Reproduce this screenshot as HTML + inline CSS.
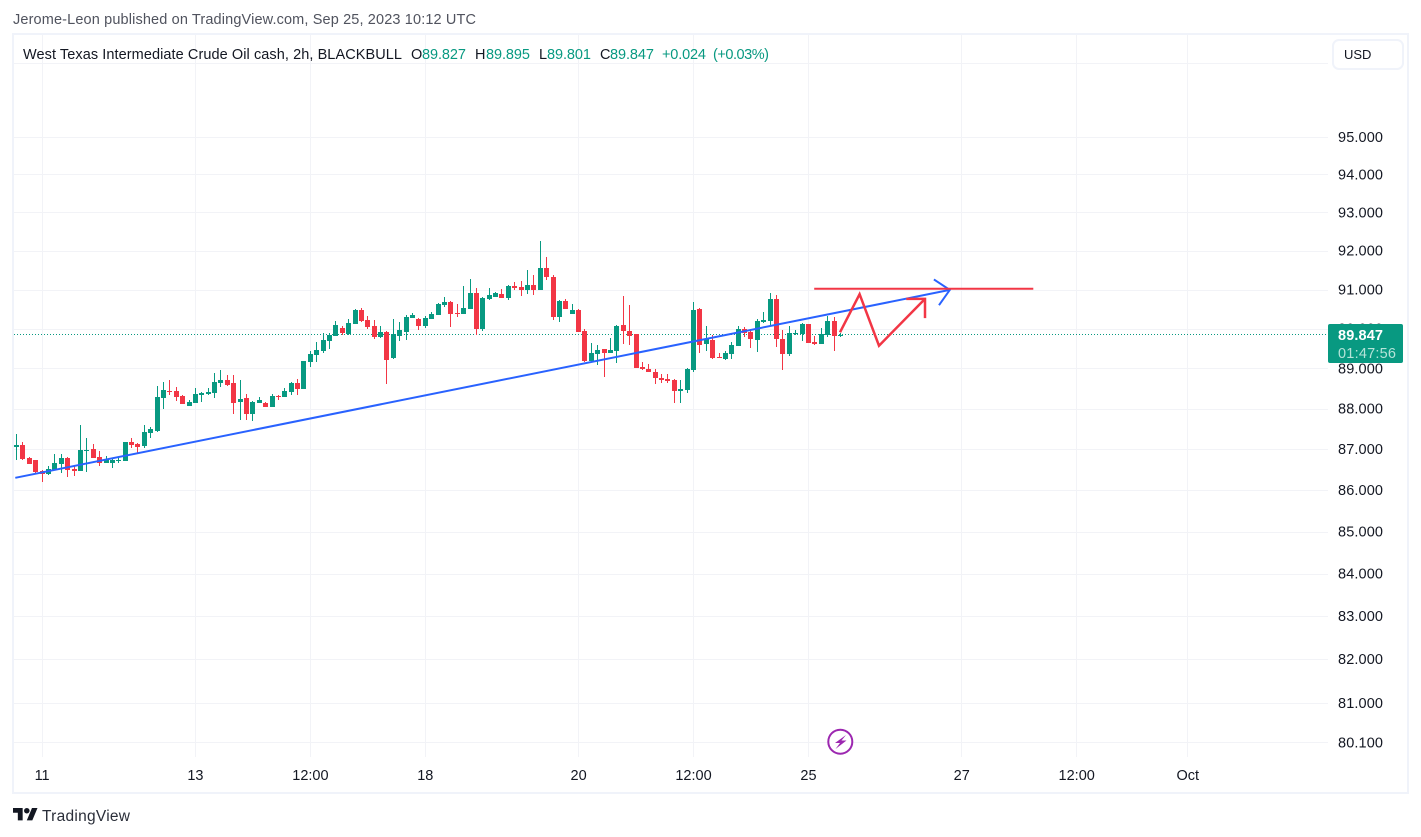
<!DOCTYPE html>
<html lang="en">
<head>
<meta charset="utf-8">
<title>WTI Crude Oil cash 2h chart</title>
<style>
html,body{margin:0;padding:0;background:#fff;width:1421px;height:837px;overflow:hidden}
svg{display:block}
text{font-family:"Liberation Sans",sans-serif;font-size:14.5px;fill:#131722}
.g{fill:#089981}
</style>
</head>
<body>
<svg id="chart" xmlns="http://www.w3.org/2000/svg" width="1421" height="837" viewBox="0 0 1421 837">
  <rect x="0" y="0" width="1421" height="837" fill="#ffffff"/>
  <text x="13" y="24" textLength="463" lengthAdjust="spacing" fill="#50535e" style="fill:#50535e">Jerome-Leon published on TradingView.com, Sep 25, 2023 10:12 UTC</text>
  <rect x="13" y="34" width="1395" height="759" fill="none" stroke="#f0f3fa" stroke-width="2"/>
  <g id="grid"></g>
  <g id="last-line"></g>
  <g id="candles"></g>
  <g id="drawings"></g>
  <g id="y-axis"></g>
  <g id="x-axis"></g>

  <g>
    <text x="23" y="59" textLength="379" lengthAdjust="spacing">West Texas Intermediate Crude Oil cash, 2h, BLACKBULL</text>
    <text x="411" y="59">O</text>
    <text class="g" x="422" y="59" textLength="44" lengthAdjust="spacing">89.827</text>
    <text x="475" y="59">H</text>
    <text class="g" x="486" y="59" textLength="44" lengthAdjust="spacing">89.895</text>
    <text x="539" y="59">L</text>
    <text class="g" x="547" y="59" textLength="44" lengthAdjust="spacing">89.801</text>
    <text x="600" y="59">C</text>
    <text class="g" x="610" y="59" textLength="44" lengthAdjust="spacing">89.847</text>
    <text class="g" x="662" y="59" textLength="44" lengthAdjust="spacing">+0.024</text>
    <text class="g" x="713" y="59" textLength="56" lengthAdjust="spacing">(+0.03%)</text>
  </g>

  <g>
    <rect x="1333" y="40" width="70" height="29" rx="6" fill="#ffffff" stroke="#f0f3fa" stroke-width="2"/>
    <text x="1344" y="59" style="font-size:13px">USD</text>
  </g>

  <g>
    <rect x="1328" y="324" width="75" height="39" rx="2" fill="#089981"/>
    <text x="1338" y="340" textLength="45" lengthAdjust="spacing" style="fill:#ffffff;font-weight:bold">89.847</text>
    <text x="1338" y="358" textLength="58" lengthAdjust="spacing" style="fill:#b5e3d8">01:47:56</text>
  </g>

  <g>
    <circle cx="840.3" cy="741.7" r="12" fill="#ffffff" stroke="#9c27b0" stroke-width="2"/>
    <polygon points="846,735 835,743 840,743 835.5,749 846.5,740.5 841.5,740.5" fill="#9c27b0"/>
  </g>

  <g>
    <g transform="translate(13,805.2) scale(0.69)">
      <path d="M14 22H7V11H0V4h14v18zM28 22h-8l7.5-18h8L28 22z" fill="#131722"/>
      <circle cx="20" cy="8" r="4" fill="#131722"/>
    </g>
    <text x="42" y="821" textLength="88" lengthAdjust="spacing" style="font-size:15.5px;fill:#2a2e39">TradingView</text>
  </g>
</svg>

<script>
// ---- chart data (prices) ----
const opens = [
87.04,87.11,86.79,86.74,86.47,86.40,86.50,86.64,86.79,86.52,
86.47,86.96,87.01,86.81,86.67,86.67,86.72,86.72,87.18,87.13,
87.08,87.40,87.45,88.26,88.43,88.43,88.31,88.06,88.13,88.33,
88.36,88.38,88.63,88.71,88.63,88.16,88.26,87.86,88.13,88.13,
88.03,88.32,88.28,88.41,88.63,88.48,89.16,89.34,89.44,89.69,
89.82,90.02,89.87,90.12,90.47,90.22,90.07,89.79,89.92,89.26,
89.82,89.92,90.27,90.25,90.07,90.25,90.35,90.60,90.68,90.40,
90.37,90.50,90.91,89.99,90.75,90.81,90.88,90.78,91.09,91.06,
90.98,91.11,90.98,91.55,91.32,90.30,90.70,90.37,90.47,89.94,
89.18,89.36,89.49,89.39,89.44,90.09,89.94,89.87,89.03,88.98,
88.91,88.76,88.73,88.71,88.43,88.46,88.96,90.50,89.61,89.71,
89.29,89.24,89.36,89.56,89.99,89.92,89.71,90.17,90.19,90.75,
89.74,89.36,89.87,89.87,90.12,89.66,89.61,89.84,90.19,89.827];
const highs = [
87.37,87.18,86.81,86.74,86.50,86.59,86.89,86.89,86.81,86.59,
87.59,87.28,87.13,86.96,86.84,86.79,86.81,87.18,87.28,87.15,
87.59,87.54,88.56,88.66,88.71,88.53,88.33,88.21,88.51,88.41,
88.51,88.88,88.96,88.83,88.83,88.71,88.36,88.18,88.28,88.16,
88.36,88.33,88.51,88.66,88.73,89.18,89.44,89.66,89.89,89.89,
90.19,90.07,90.25,90.50,90.53,90.32,90.22,90.07,89.94,90.25,
90.17,90.35,90.40,90.27,90.32,90.42,90.65,90.81,90.70,90.63,
91.09,91.26,91.03,90.81,91.03,90.93,91.01,91.11,91.19,91.21,
91.50,91.37,92.24,91.85,91.37,90.73,90.75,90.63,90.50,89.99,
89.64,89.59,89.49,89.76,90.09,90.83,90.60,89.87,89.16,89.11,
88.98,88.86,88.86,88.73,88.71,89.01,90.68,90.53,90.07,89.84,
89.39,89.44,89.66,90.07,90.04,89.99,90.25,90.42,90.91,90.86,
89.97,90.07,89.97,90.14,90.12,89.82,90.02,90.32,90.30,89.895];
const lows = [
86.74,86.74,86.64,86.40,86.20,86.37,86.50,86.42,86.33,86.35,
86.47,86.45,86.79,86.59,86.67,86.54,86.67,86.72,87.03,86.89,
87.03,87.28,87.42,87.98,88.33,88.18,88.11,88.06,88.13,88.16,
88.33,88.26,88.53,88.56,87.86,87.72,87.72,87.69,88.13,88.03,
88.03,88.21,88.28,88.33,88.33,88.48,89.03,89.16,89.39,89.49,
89.82,89.84,89.84,90.12,90.17,89.99,89.74,89.76,88.61,89.24,
89.69,89.71,90.27,89.97,90.02,90.25,90.35,90.55,90.04,90.30,
90.37,90.50,89.84,89.94,90.73,90.81,90.78,90.73,90.98,90.83,
90.88,90.86,90.98,91.24,90.22,90.17,90.50,90.37,89.92,89.16,
89.16,89.08,88.78,89.39,89.13,89.61,89.59,89.01,88.96,88.91,
88.61,88.63,88.63,88.13,88.13,88.38,88.91,89.39,89.44,89.24,
89.26,89.21,89.24,89.56,89.79,89.51,89.41,90.14,90.09,89.54,
88.96,89.31,89.84,89.69,89.64,89.59,89.61,89.79,89.44,89.801];
const closes = [
87.11,86.76,86.64,86.45,86.40,86.52,86.67,86.79,86.50,86.47,
86.98,86.98,86.79,86.67,86.76,86.74,86.74,87.18,87.11,87.06,
87.42,87.50,88.28,88.46,88.41,88.28,88.11,88.16,88.36,88.38,
88.41,88.66,88.71,88.58,88.13,88.23,87.86,88.16,88.21,88.03,
88.31,88.29,88.43,88.63,88.48,89.18,89.36,89.46,89.71,89.84,
90.09,89.89,90.14,90.47,90.19,90.04,89.79,89.92,89.21,89.87,
89.97,90.30,90.35,90.07,90.27,90.37,90.63,90.68,90.37,90.37,
90.53,90.91,89.99,90.78,90.86,90.91,90.78,91.09,91.03,90.98,
91.11,90.98,91.55,91.32,90.30,90.70,90.50,90.47,89.92,89.18,
89.39,89.46,89.39,89.46,90.07,89.94,89.82,89.01,88.98,88.91,
88.76,88.71,88.68,88.43,88.48,88.98,90.47,89.59,89.74,89.26,
89.26,89.39,89.59,89.99,89.89,89.74,90.19,90.22,90.75,89.74,
89.36,89.89,89.89,90.12,89.64,89.61,89.87,90.19,89.82,89.847];

const priceTicks = [95,94,93,92,91,90,89,88,87,86,85,84,83,82,81,80.1];
const extraGridPrices = [97];
const priceTickLabels = ["95.000","94.000","93.000","92.000","91.000","90.000","89.000","88.000","87.000","86.000","85.000","84.000","83.000","82.000","81.000","80.100"];
const timeTickBars = [4,28,46,64,88,106,124,148,166,183.4];
const timeTickLabels = ["11","13","12:00","18","20","12:00","25","27","12:00","Oct"];
const lastPrice = 89.847;

// drawings in chart units (bar index, price)
const trendBars = [-0.2,146.13];
const trendPrices = [86.30,90.99];
const trendHeadBars = [143.65,146.13,144.44];
const trendHeadPrices = [91.26,90.99,90.60];
const levelBars = [124.9,159.2];
const levelPrices = [91.02,91.02];
const pathBars = [128.94,132.0,135.04,142.25];
const pathPrices = [89.91,90.88,89.57,90.76];
const pathHeadBars = [139.32,142.25,142.25];
const pathHeadPrices = [90.76,90.76,90.27];

// ---- axis functions ----
function xScale(i){ return 16.6 + 6.386 * i; }
function yScale(p){ return 136.8 + 3550 * Math.log(95 / p); }

const NS = "http://www.w3.org/2000/svg";
function make(tag, parent, attrs){
  const el = document.createElementNS(NS, tag);
  for (const k in attrs) el.setAttribute(k, attrs[k]);
  parent.appendChild(el);
  return el;
}
function pts(bars, prices){
  return bars.map(function(b, i){ return xScale(b).toFixed(1) + "," + yScale(prices[i]).toFixed(1); }).join(" ");
}

const GREEN = "#089981", RED = "#f23645", BLUE = "#2962ff", GRID = "#f2f3f7";
const gridG = document.getElementById("grid");
const lastG = document.getElementById("last-line");
const candleG = document.getElementById("candles");
const drawG = document.getElementById("drawings");
const yG = document.getElementById("y-axis");
const xG = document.getElementById("x-axis");

// grid
priceTicks.concat(extraGridPrices).forEach(function(p){
  const y = Math.round(yScale(p)) + 0.5;
  const ln = make("line", gridG, {x1:14, x2:1328, y1:y, y2:y, stroke:GRID, "stroke-width":1});
  
  
});
timeTickBars.forEach(function(b){
  const x = Math.floor(xScale(b)) + 0.5;
  const ln = make("line", gridG, {x1:x, x2:x, y1:35, y2:757, stroke:GRID, "stroke-width":1});
  
  
});

// last price line
const lastY = Math.floor(yScale(lastPrice)) + 0.5;
const lastLine = make("line", lastG, {x1:14, x2:1328, y1:lastY, y2:lastY, stroke:GREEN, "stroke-width":1, "stroke-dasharray":"1 2"});



// candles
opens.forEach(function(o, i){
  const c = closes[i], col = c >= o ? GREEN : RED;
  const wx = Math.floor(xScale(i));
  const hy = Math.round(yScale(highs[i])), ly = Math.round(yScale(lows[i]));
  const top = Math.round(yScale(Math.max(o, c))), bot = Math.round(yScale(Math.min(o, c)));
  const g = make("g", candleG, {});
  
  
  const wick = make("rect", g, {x:wx, y:hy, width:1, height:Math.max(1, ly - hy), fill:col});
  
  
  const body = make("rect", g, {x:wx - 2, y:top, width:5, height:Math.max(1, bot - top), fill:col});
  
  
});

// drawings
const trend = make("polyline", drawG, {points:pts(trendBars, trendPrices), fill:"none", stroke:BLUE, "stroke-width":2});


const trendHead = make("polyline", drawG, {points:pts(trendHeadBars, trendHeadPrices), fill:"none", stroke:BLUE, "stroke-width":2});


const level = make("polyline", drawG, {points:pts(levelBars, levelPrices), fill:"none", stroke:RED, "stroke-width":2});


const path = make("polyline", drawG, {points:pts(pathBars, pathPrices), fill:"none", stroke:RED, "stroke-width":2.5, "stroke-linejoin":"miter"});


const pathHead = make("polyline", drawG, {points:pts(pathHeadBars, pathHeadPrices), fill:"none", stroke:RED, "stroke-width":2.5});



// price axis labels
priceTicks.forEach(function(p, i){
  const t = make("text", yG, {x:1338, y:(yScale(p) + 5).toFixed(1), textLength:45, lengthAdjust:"spacing"});
  
  
  t.textContent = priceTickLabels[i];
});

// time axis labels
timeTickBars.forEach(function(b, i){
  const t = make("text", xG, {x:xScale(b).toFixed(1), y:780, "text-anchor":"middle"});
  
  
  t.textContent = timeTickLabels[i];
});
</script>
</body>
</html>
